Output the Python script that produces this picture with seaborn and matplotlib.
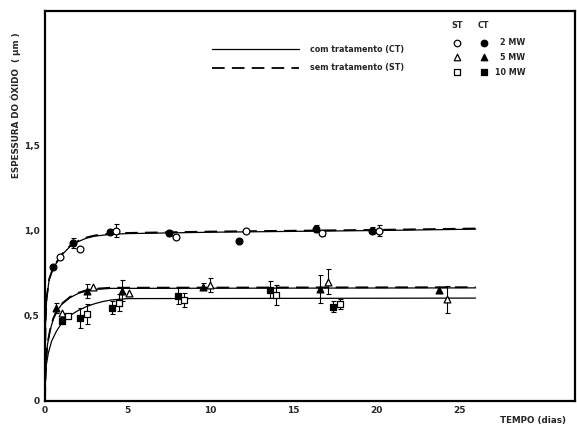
import numpy as np
import pandas as pd
import matplotlib
matplotlib.use("Agg")
import matplotlib.pyplot as plt
import seaborn as sns

# ---------------- data ----------------
# fitted curves (CT solid, ST dashed)
curve_2mw_t = [0, 0.03, 0.1, 0.25, 0.5, 1, 1.5, 2, 2.5, 3, 4, 5, 10, 20, 26]
curve_2mw_y = [0, 0.45, 0.60, 0.71, 0.78, 0.855, 0.905, 0.935, 0.955, 0.967, 0.978, 0.982, 0.99, 1.0, 1.008]
curve_5mw_t = [0, 0.05, 0.15, 0.3, 0.5, 0.75, 1, 1.5, 2, 2.5, 3, 4, 26]
curve_5mw_y = [0, 0.22, 0.33, 0.41, 0.48, 0.53, 0.565, 0.605, 0.630, 0.645, 0.654, 0.66, 0.663]
curve_10mw_t = [0, 0.02, 0.08, 0.2, 0.4, 0.7, 1, 1.5, 2, 2.5, 3, 3.5, 4, 5, 26]
curve_10mw_y = [0, 0.12, 0.21, 0.28, 0.35, 0.41, 0.455, 0.50, 0.53, 0.553, 0.57, 0.583, 0.592, 0.60, 0.603]

# measured points: 2 MW
ct2_x = [0.50, 1.71, 3.91, 7.49, 11.72, 16.39, 19.74]
ct2_y = [0.788, 0.929, 0.994, 0.985, 0.941, 1.01, 1.0]
ct2_e = [0.0, 0.03, 0.0, 0.02, 0.0, 0.02, 0.02]
st2_x = [0.91, 2.10, 4.31, 7.93, 12.13, 16.72, 20.14]
st2_y = [0.847, 0.891, 1.0, 0.961, 1.0, 0.985, 1.0]
st2_e = [0.0, 0.0, 0.04, 0.0, 0.0, 0.02, 0.03]
# 5 MW
ct5_x = [0.65, 2.52, 4.67, 9.55, 16.6, 23.8]
ct5_y = [0.543, 0.645, 0.647, 0.67, 0.657, 0.651]
ct5_e = [0.03, 0.04, 0.06, 0.02, 0.08, 0.02]
st5_x = [1.05, 2.90, 5.08, 9.97, 17.06, 24.25]
st5_y = [0.518, 0.67, 0.632, 0.68, 0.70, 0.596]
st5_e = [0.0, 0.0, 0.0, 0.04, 0.075, 0.08]
# 10 MW
ct10_x = [1.05, 2.10, 4.07, 8.05, 13.58, 17.4]
ct10_y = [0.47, 0.485, 0.547, 0.616, 0.651, 0.553]
ct10_e = [0.02, 0.06, 0.04, 0.05, 0.05, 0.03]
st10_x = [1.41, 2.52, 4.47, 8.40, 13.94, 17.81]
st10_y = [0.498, 0.508, 0.576, 0.592, 0.622, 0.569]
st10_e = [0.0, 0.06, 0.05, 0.04, 0.06, 0.03]

x_ticks = [0, 5, 10, 15, 20, 25]
y_ticks = [0, 0.5, 1.0, 1.5]
y_tick_labels = ["0", "0,5", "1,0", "1,5"]
power_labels = ["2 MW", "5 MW", "10 MW"]

# ---------------- figure ----------------
sns.set_style("white")
plt.rcParams["font.family"] = ["DejaVu Sans"]

fig = plt.figure(figsize=(5.77, 4.26), dpi=100)
ax = fig.add_axes([45 / 577, (426 - 400.7) / 426, 530 / 577, 389.7 / 426])

# curves
for t, y in [(curve_2mw_t, curve_2mw_y), (curve_5mw_t, curve_5mw_y), (curve_10mw_t, curve_10mw_y)]:
    df = pd.DataFrame({"t": t, "y": y})
    sns.lineplot(data=df, x="t", y="y", ax=ax, color="black", lw=0.9, sort=False)
for t, y in [(curve_2mw_t, curve_2mw_y), (curve_5mw_t, curve_5mw_y)]:
    df = pd.DataFrame({"t": t, "y": [v + 0.004 for v in y]})
    sns.lineplot(data=df, x="t", y="y", ax=ax, color="black", lw=1.3,
                 dashes=False, sort=False, linestyle=(0, (7, 4)))

# points with error bars
series = [
    (ct2_x, ct2_y, ct2_e, "o", True),
    (st2_x, st2_y, st2_e, "o", False),
    (ct5_x, ct5_y, ct5_e, "^", True),
    (st5_x, st5_y, st5_e, "^", False),
    (ct10_x, ct10_y, ct10_e, "s", True),
    (st10_x, st10_y, st10_e, "s", False),
]
for xs, ys, es, m, filled in series:
    xs_e = [x for x, e in zip(xs, es) if e > 0]
    ys_e = [y for y, e in zip(ys, es) if e > 0]
    ee = [e for e in es if e > 0]
    if ee:
        ax.errorbar(xs_e, ys_e, yerr=ee, fmt="none", ecolor="black",
                    elinewidth=0.8, capsize=1.8, capthick=0.8, zorder=3)
    sns.scatterplot(x=xs, y=ys, ax=ax, marker=m, s=24,
                    color="black" if filled else "white",
                    edgecolor="black", linewidth=0.9, zorder=4)

# axes styling
ax.set_xlim(0, 32)
ax.set_ylim(0, 2.29)
ax.set_xticks(x_ticks)
ax.set_xticklabels([str(v) for v in x_ticks])
ax.set_yticks(y_ticks)
ax.set_yticklabels(y_tick_labels)
ax.tick_params(axis="both", direction="out", length=2.5, width=1, color="black",
               labelsize=6.5, pad=1.5)
for lab in ax.get_xticklabels() + ax.get_yticklabels():
    lab.set_fontweight("bold")
for sp in ax.spines.values():
    sp.set_visible(True)
    sp.set_color("black")
    sp.set_linewidth(1.6)
ax.set_xlabel("")
ax.set_ylabel("")

fig.text(16 / 577, 1 - 105 / 426, "ESPESSURA DO ÓXIDO  ( μm )", rotation=90,
         ha="center", va="center", fontsize=6.3, fontweight="bold")
fig.text(500 / 577, 1 - 420 / 426, "TEMPO (dias)", ha="left", va="center",
         fontsize=6.3, fontweight="bold")

# legend: line styles
ax.plot([0.316, 0.479], [0.902, 0.902], transform=ax.transAxes, color="black", lw=0.9)
ax.plot([0.316, 0.479], [0.855, 0.855], transform=ax.transAxes, color="black", lw=1.3,
        linestyle=(0, (7, 4)))
ax.text(0.50, 0.902, "com tratamento (CT)", transform=ax.transAxes, va="center",
        ha="left", fontsize=5.8, fontweight="bold")
ax.text(0.50, 0.855, "sem tratamento (ST)", transform=ax.transAxes, va="center",
        ha="left", fontsize=5.8, fontweight="bold")

# legend: markers
ax.text(0.777, 0.964, "ST", transform=ax.transAxes, ha="center", va="center",
        fontsize=5.8, fontweight="bold")
ax.text(0.828, 0.964, "CT", transform=ax.transAxes, ha="center", va="center",
        fontsize=5.8, fontweight="bold")
for m, lab, yy in zip(["o", "^", "s"], power_labels, [0.919, 0.881, 0.843]):
    ax.scatter([0.777], [yy], transform=ax.transAxes, marker=m, s=22,
               facecolor="white", edgecolor="black", linewidth=0.9)
    ax.scatter([0.828], [yy], transform=ax.transAxes, marker=m, s=22,
               facecolor="black", edgecolor="black", linewidth=0.9)
    ax.text(0.906, yy, lab, transform=ax.transAxes, ha="right", va="center",
            fontsize=5.8, fontweight="bold")

fig.savefig("out.png", dpi=100)
